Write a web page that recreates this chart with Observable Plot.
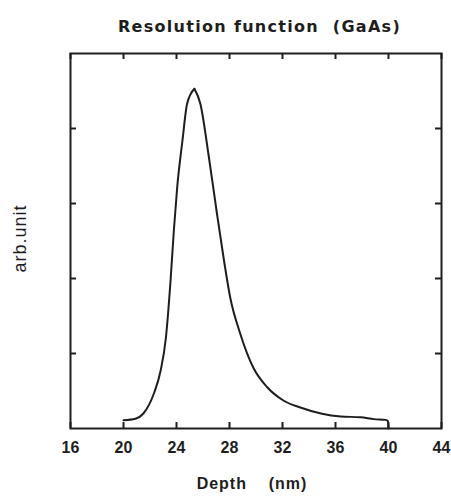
<!DOCTYPE html>
<html>
<head>
<meta charset="utf-8">
<script src="https://cdn.jsdelivr.net/npm/d3@7"></script>
<script src="https://cdn.jsdelivr.net/npm/@observablehq/plot@0.6"></script>
<style>
  html, body { margin: 0; padding: 0; background: #fff; }
</style>
</head>
<body>
<div id="chart"></div>
<script>
// Data (Depth in nm, intensity in arbitrary units)
const depth = [20.0, 20.9, 21.5, 22.3, 22.8, 23.2, 23.55, 23.8, 24.05, 24.45, 24.8, 25.35, 25.8, 26.45, 27.05, 27.55, 28.05, 28.8, 29.8, 30.85, 32.1, 33.35, 34.9, 36.4, 37.9, 38.9, 39.8, 39.95, 40.0];
const intensity = [0.11, 0.13, 0.20, 0.47, 0.77, 1.21, 1.97, 2.64, 3.21, 3.84, 4.33, 4.53, 4.33, 3.61, 2.87, 2.28, 1.75, 1.27, 0.81, 0.55, 0.37, 0.28, 0.20, 0.16, 0.15, 0.125, 0.115, 0.10, 0.0];
const peakDepth = 25.35;
const xTicks = [16, 20, 24, 28, 32, 36, 40, 44];
const xTickLabels = ["16", "20", "24", "28", "32", "36", "40", "44"];
const yTicks = [1, 2, 3, 4];
const title = "Resolution function\u00a0\u00a0(GaAs)";
const xLabel = "Depth\u00a0\u00a0\u00a0\u00a0(nm)";
const yLabel = "arb.unit";

const data = depth.map((d, i) => ({depth: d, value: intensity[i]}));

const W = 451, H = 499;
const mL = 70, mR = 10, mT = 53, mB = 71;
const plotW = W - mL - mR, plotH = H - mT - mB;
const ink = "#1e1e1e";
const tick = 6;

const chart = Plot.plot({
  width: W,
  height: H,
  marginLeft: mL,
  marginRight: mR,
  marginTop: mT,
  marginBottom: mB,
  style: {background: "#fff", color: ink, overflow: "visible", fontSize: "16px", fontFamily: "Liberation Sans, Arial, sans-serif"},
  x: {domain: [16, 44], ticks: xTicks},
  y: {domain: [0, 5], ticks: yTicks},
  marks: [
    // tick labels on the bottom axis
    Plot.axisX(xTicks, {
      anchor: "bottom", tickSize: 0, tickPadding: 13,
      tickFormat: (d, i) => xTickLabels[i],
      fontSize: 16, fontWeight: "bold", fontFamily: "Liberation Sans, Arial, sans-serif",
      fill: ink, label: null
    }),
    Plot.axisY(yTicks, {tickSize: 0, tickFormat: () => "", label: null}),
    // inward ticks on all four sides
    Plot.tickX(xTicks, {x: d => d, insetTop: plotH - tick, stroke: ink, strokeWidth: 2}),
    Plot.tickX(xTicks, {x: d => d, insetBottom: plotH - tick, stroke: ink, strokeWidth: 2}),
    Plot.tickY(yTicks, {y: d => d, insetRight: plotW - tick, stroke: ink, strokeWidth: 2}),
    Plot.tickY(yTicks, {y: d => d, insetLeft: plotW - tick, stroke: ink, strokeWidth: 2}),
    Plot.frame({stroke: ink, strokeWidth: 2}),
    // the curve: rising and falling flanks meet in a pointed peak
    Plot.line(data, {filter: d => d.depth <= peakDepth, x: "depth", y: "value", stroke: ink, strokeWidth: 2, curve: "monotone-x", strokeLinejoin: "round", strokeLinecap: "round"}),
    Plot.line(data, {filter: d => d.depth >= peakDepth, x: "depth", y: "value", stroke: ink, strokeWidth: 2, curve: "monotone-x", strokeLinejoin: "round", strokeLinecap: "round"}),
    // title and axis labels
    Plot.text([title], {
      text: d => d, frameAnchor: "top", textAnchor: "middle", dy: -32.5, dx: 3.5,
      fontSize: 16, fontWeight: "bold", fontFamily: "DejaVu Sans, sans-serif",
      fill: ink
    }),
    Plot.text([xLabel], {
      text: d => d, frameAnchor: "bottom", textAnchor: "middle", dy: 60.5, dx: -4,
      fontSize: 16, fontWeight: "bold", fontFamily: "Liberation Sans, Arial, sans-serif",
      fill: ink
    }),
    Plot.text([yLabel], {
      text: d => d, frameAnchor: "left", textAnchor: "middle", dx: -50, dy: -2.5, rotate: -90,
      fontSize: 18, fontFamily: "Liberation Sans, Arial, sans-serif",
      fill: ink
    })
  ]
});

// letter spacing applied to texts that need it
chart.querySelectorAll("text").forEach(t => {
  if (t.textContent === title) t.setAttribute("letter-spacing", "1.3px");
  if (t.textContent === xLabel) t.setAttribute("letter-spacing", "1px");
  if (t.textContent === yLabel) t.setAttribute("letter-spacing", "1px");
});

document.getElementById("chart").appendChild(chart);
</script>
</body>
</html>
